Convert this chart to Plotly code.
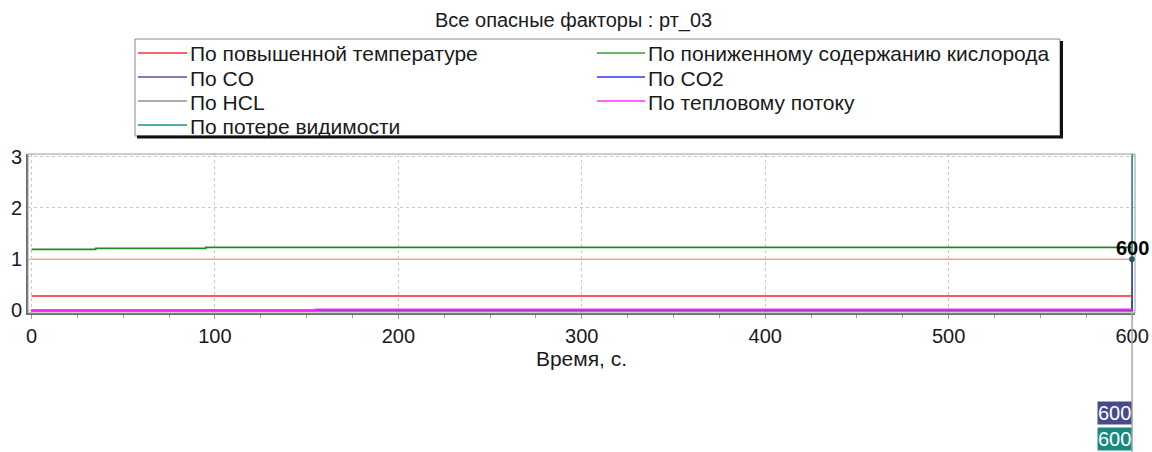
import plotly.graph_objects as go

# ---------------- data ----------------
time_s = [0, 35, 95, 155, 599, 600]
temp_vals = [0.28, 0.28, 0.28, 0.28, 0.28, 0.28]
o2_vals = [1.19, 1.21, 1.23, 1.23, 1.23, 1.23]
co_vals = [0.0, 0.0, 0.0, 0.0, 0.0, 1.0]
co2_vals = [0.0, 0.0, 0.0, 0.0, 0.0, 0.2]
hcl_vals = [0.0, 0.0, 0.0, 0.0, 0.0, 0.0]
heat_vals = [0.0, 0.0, 0.0, 0.02, 0.02, 0.02]
vis_vals = [0.0, 0.0, 0.0, 0.0, 0.0, 6.0]
crit_time = [0, 600]
crit_vals = [1.0, 1.0]
cursor_time = 600
cursor_value = 1.0
cursor_label_value = 1.21

series_names = [
    "По повышенной температуре",
    "По пониженному содержанию кислорода",
    "По CO",
    "По CO2",
    "По HCL",
    "По тепловому потоку",
    "По потере видимости",
]
series_values = [temp_vals, o2_vals, co_vals, co2_vals, hcl_vals, heat_vals, vis_vals]
series_colors = ["#ff2020", "#1e8c1e", "#4a4a9a", "#2020ff", "#8c8c8c", "#ff20ff", "#1a8a80"]
series_widths = [1.6, 1.6, 1.6, 1.6, 1.6, 2.0, 1.6]
legend_colors = ["#ff3030", "#30a030", "#5050a0", "#3030ff", "#909090", "#ff30ff", "#209088"]

title_text = "Все опасные факторы : рт_03"
x_title = "Время, с."
x_ticks = [0, 100, 200, 300, 400, 500, 600]
y_ticks = [0, 1, 2, 3]

FONT = "Liberation Sans, Arial, sans-serif"
TXT = "#1a1a1a"

# plot-area pixel geometry (for paper-coordinate decorations)
W, H = 1152, 452
L, R, T, B = 28, 1135, 154, 313


def px(xp):
    return (xp - L) / (R - L)


def py(yp):
    return (B - yp) / (B - T)


fig = go.Figure()

# critical level line
fig.add_trace(go.Scatter(x=crit_time, y=crit_vals, mode="lines",
                         line=dict(color="#ff9a9a", width=1.5),
                         showlegend=False, hoverinfo="skip"))

# draw order: visibility first so the others sit on top
order = [6, 0, 1, 4, 3, 2, 5]
for i in order:
    fig.add_trace(go.Scatter(
        x=time_s, y=series_values[i], mode="lines", name=series_names[i],
        line=dict(color=series_colors[i], width=series_widths[i], shape="hv"),
        showlegend=False))

# cursor marker
fig.add_trace(go.Scatter(x=[cursor_time], y=[cursor_value], mode="markers",
                         marker=dict(color="#1f5a5a", size=6),
                         showlegend=False, hoverinfo="skip"))

shapes = []
annotations = []

# plot frame
shapes.append(dict(type="rect", xref="paper", yref="paper", x0=0, x1=1, y0=0, y1=1,
                   line=dict(color="#9a9a9a", width=1), layer="above"))

# cursor line running below the chart
shapes.append(dict(type="line", xref="x", yref="paper", x0=cursor_time, x1=cursor_time,
                   y0=py(452), y1=0, line=dict(color="#a8a8a8", width=1.5)))

# legend box with shadow
shapes.append(dict(type="rect", xref="paper", yref="paper",
                   x0=px(135), x1=px(1060), y0=py(136), y1=py(39),
                   line=dict(color="#8a8a8a", width=1), fillcolor="white"))
shapes.append(dict(type="line", xref="paper", yref="paper",
                   x0=px(137), x1=px(1063), y0=py(137), y1=py(137),
                   line=dict(color="#111111", width=3)))
shapes.append(dict(type="line", xref="paper", yref="paper",
                   x0=px(1061.5), x1=px(1061.5), y0=py(41), y1=py(138),
                   line=dict(color="#111111", width=3)))

rows = [53, 77, 101, 125]
for i, name in enumerate(series_names):
    col = i % 2
    row = i // 2
    yl = rows[row]
    x0, x1, xt = (138, 187, 188) if col == 0 else (597, 645, 646)
    shapes.append(dict(type="line", xref="paper", yref="paper",
                       x0=px(x0), x1=px(x1), y0=py(yl), y1=py(yl),
                       line=dict(color=legend_colors[i], width=1.5)))
    annotations.append(dict(text=name, xref="paper", yref="paper",
                            x=px(xt), y=py(yl + 1), xanchor="left", yanchor="middle",
                            showarrow=False, font=dict(family=FONT, size=21, color=TXT)))

# title
annotations.append(dict(text=title_text, xref="paper", yref="paper",
                        x=px(573), y=py(20), xanchor="center", yanchor="middle",
                        showarrow=False, font=dict(family=FONT, size=20, color=TXT)))

# bold cursor label
annotations.append(dict(text="<b>%d</b>" % cursor_time, xref="x", yref="y",
                        x=cursor_time, y=cursor_label_value, xanchor="center", yanchor="middle",
                        showarrow=False, font=dict(family=FONT, size=20, color="#000000")))

# value boxes below the chart
for yc, bg in [(413, "#4a4a8a"), (439, "#1a8a80")]:
    annotations.append(dict(text=str(cursor_time), xref="x", yref="paper",
                            x=cursor_time, y=py(yc), xanchor="right", yanchor="middle",
                            showarrow=False, bgcolor=bg, borderpad=0,
                            font=dict(family=FONT, size=20, color="white")))

fig.update_layout(
    width=W, height=H,
    margin=dict(l=L, r=W - R, t=T, b=H - B, pad=0),
    paper_bgcolor="white", plot_bgcolor="white",
    font=dict(family=FONT, size=20, color=TXT),
    shapes=shapes, annotations=annotations,
    showlegend=False,
)

fig.update_xaxes(
    automargin=False,
    range=[-1.9, 601.6], tickvals=x_ticks, ticktext=[str(v) for v in x_ticks],
    showgrid=True, gridcolor="#c8c8c8", griddash="dot", gridwidth=1,
    zeroline=False, showline=True, linecolor="#6a6a6a", linewidth=2,
    ticks="outside", ticklen=4, tickcolor="#9a9a9a",
    minor=dict(dtick=25, ticks="outside", ticklen=3, tickcolor="#9a9a9a", showgrid=False),
    tickfont=dict(family=FONT, size=20, color=TXT),
    title=dict(text=x_title, font=dict(family=FONT, size=21, color=TXT), standoff=0),
)
fig.update_yaxes(
    automargin=False,
    range=[-0.05, 3.05], tickvals=y_ticks, ticktext=[str(v) for v in y_ticks],
    showgrid=True, gridcolor="#c8c8c8", griddash="dot", gridwidth=1,
    zeroline=False, showline=True, linecolor="#6a6a6a", linewidth=2,
    ticks="", tickfont=dict(family=FONT, size=20, color=TXT),
)

fig.write_html(
    "out.html",
    config={"displayModeBar": False},
    post_script="document.body.style.margin='0';document.body.style.overflow='hidden';",
)
